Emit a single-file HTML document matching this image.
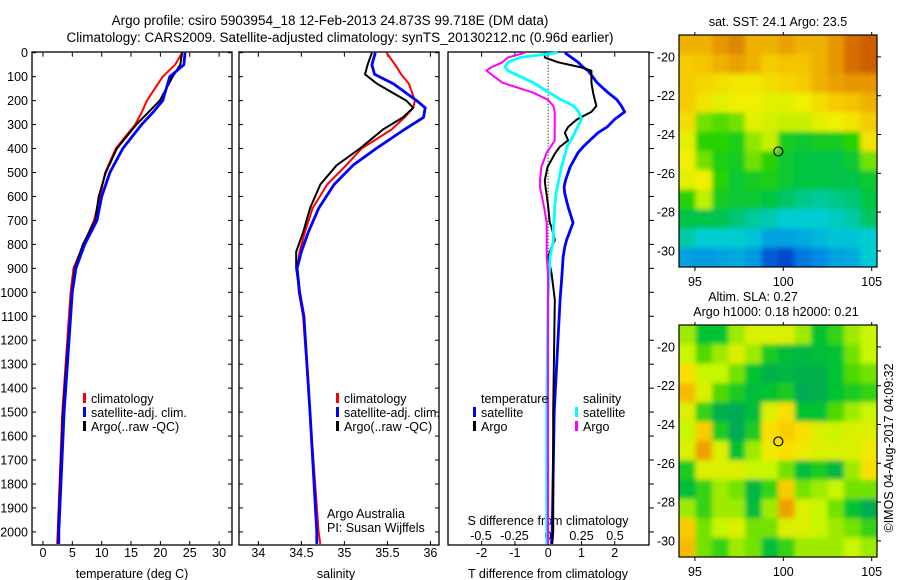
<!DOCTYPE html>
<html><head><meta charset="utf-8"><style>
html,body{margin:0;padding:0;background:#fff}
svg{display:block;font-family:"Liberation Sans",sans-serif}
</style></head><body>
<svg id="fig" width="900" height="580" viewBox="0 0 900 580">
<defs>
<filter id="blur" x="0" y="0" width="1" height="1"><feGaussianBlur stdDeviation="2.5"/></filter>
<clipPath id="c1"><rect x="679" y="35" width="198" height="232"/></clipPath>
<clipPath id="c2"><rect x="679" y="325" width="198" height="232"/></clipPath>
</defs>
<text x="330" y="25" font-size="13.5" text-anchor="middle">Argo profile: csiro 5903954_18 12-Feb-2013 24.873S 99.718E (DM data)</text>
<text x="340" y="42" font-size="13.5" text-anchor="middle">Climatology: CARS2009. Satellite-adjusted climatology: synTS_20130212.nc (0.96d earlier)</text>
<text transform="translate(893,448) rotate(-90)" font-size="12.5" text-anchor="middle">©IMOS 04-Aug-2017 04:09:32</text>
</svg>
<script>
// ---- depth data (m) ----
const depthsT = [0,50,100,200,250,300,400,500,600,700,800,900,1000,1500,2000,2050];
const tempClim = [23.7,22.5,20.4,17.7,16.8,15.7,12.4,10.6,9.7,8.7,6.9,5.2,4.7,3.3,2.5,2.4];
const tempArgo = [23.7,23.4,22.1,19.9,17.9,15.9,12.6,10.7,9.5,8.9,6.8,5.4,4.9,3.4,2.6,2.6];
const tempSat  = [24.2,24.0,21.6,20.4,18.7,16.8,13.6,11.4,10.0,9.2,7.1,5.6,5.0,3.6,2.7,2.7];

const depthsS = [0,50,90,130,200,230,270,320,400,470,550,650,750,830,900,1000,1100,1500,2000,2050];
const salClim = [35.49,35.59,35.66,35.75,35.82,35.80,35.70,35.55,35.20,35.02,34.8,34.63,34.54,34.48,34.45,34.47,34.52,34.6,34.7,34.72];
const salArgo = [35.32,35.27,35.24,35.38,35.72,35.8,35.68,35.45,35.18,34.91,34.72,34.6,34.52,34.44,34.44,34.48,34.53,34.6,34.68,34.68];
const salSat  = [35.36,35.32,35.35,35.57,35.84,35.94,35.92,35.7,35.37,35.1,34.88,34.7,34.58,34.5,34.45,34.48,34.53,34.6,34.68,34.68];

const depthsD = [0,20,40,60,75,125,167,197,222,247,278,310,334,366,393,417,477,533,560,588,643,710,727,783,810,853,920,1030,1500,2000,2050];
const tDiffSat  = [0.5,0.7,0.9,1.05,1.2,1.47,1.8,2.07,2.2,2.3,2.0,1.77,1.5,1.25,1.05,0.9,0.66,0.52,0.48,0.5,0.6,0.75,0.7,0.55,0.5,0.45,0.42,0.36,0.18,0.12,0.1];
const tDiffArgo = [-0.1,-0.1,0.3,0.96,1.3,1.3,1.35,1.4,1.45,1.3,0.87,0.6,0.5,0.6,0.35,0.22,-0.02,-0.1,-0.08,-0.05,0,0.05,0.1,0.2,0.1,0,0.1,0.2,0.15,0.15,0.12];
const sDiffSat  = [0.07,-0.21,-0.3,-0.32,-0.3,-0.11,0.01,0.1,0.19,0.23,0.25,0.22,0.2,0.17,0.14,0.13,0.1,0.08,0.07,0.06,0.05,0.045,0.04,0.04,0.03,0.015,0.01,0,-0.01,-0.01,-0.01];
const sDiffArgo = [-0.17,-0.3,-0.34,-0.42,-0.46,-0.34,-0.11,0.0,0.04,0.05,0.05,0.05,0.05,0.05,0.02,-0.01,-0.05,-0.06,-0.06,-0.05,-0.03,-0.01,-0.01,-0.01,-0.01,-0.01,0,0,0,0,0];

const depthTicks = [0,100,200,300,400,500,600,700,800,900,1000,1100,1200,1300,1400,1500,1600,1700,1800,1900,2000];
const tempTicks = [0,5,10,15,20,25,30];
const salTicks = [34,34.5,35,35.5,36];
const tDiffTicks = [-2,-1,0,1,2];
const sDiffTicks = [-0.5,-0.25,0,0.25,0.5];
const sDiffTickLabels = ['-0.5','-0.25','0','0.25','0.5'];

// ---- map grids (normalized colour value, 12x12, rows north->south) ----
const sstGrid = [
[.85,.85,.9,.92,.85,.85,.88,.85,.85,.9,.95,.97],
[.8,.82,.85,.88,.85,.8,.82,.82,.85,.9,.95,.97],
[.8,.78,.76,.74,.74,.76,.78,.8,.85,.88,.9,.9],
[.8,.75,.7,.72,.72,.7,.7,.72,.76,.8,.82,.85],
[.76,.6,.58,.6,.7,.68,.66,.66,.7,.72,.75,.8],
[.7,.55,.55,.52,.62,.66,.5,.48,.5,.5,.55,.75],
[.72,.6,.52,.5,.6,.55,.48,.46,.45,.45,.48,.6],
[.7,.72,.55,.48,.5,.52,.48,.46,.46,.45,.45,.48],
[.55,.65,.5,.48,.48,.46,.42,.38,.36,.38,.4,.46],
[.45,.45,.44,.4,.36,.34,.3,.3,.3,.32,.35,.42],
[.35,.3,.3,.3,.28,.2,.2,.22,.25,.28,.28,.3],
[.2,.18,.2,.22,.18,.08,.05,.12,.15,.2,.22,.3]];
const slaGrid = [
[.5,.25,.25,.5,.6,.6,.6,.5,.25,.35,.5,.55],
[.55,.4,.5,.6,.5,.3,.2,.15,.2,.25,.45,.55],
[.7,.55,.55,.45,.25,.1,.15,.1,.1,.25,.4,.45],
[.8,.6,.4,.3,.2,.25,.3,.05,.1,.25,.3,.35],
[.6,.35,.1,.05,.2,.6,.7,.25,.25,.4,.5,.55],
[.55,.75,.3,.05,.3,.7,.75,.7,.6,.55,.6,.6],
[.6,.88,.6,.25,.5,.65,.7,.65,.6,.6,.6,.65],
[.3,.6,.6,.6,.55,.55,.45,.2,.3,.15,.5,.7],
[.2,.35,.5,.45,.15,.35,.75,.45,.5,.55,.45,.45],
[.5,.35,.5,.5,.2,.5,.88,.6,.55,.45,.25,.05],
[.75,.45,.55,.6,.45,.45,.6,.6,.55,.5,.45,.35],
[.8,.45,.35,.5,.45,.2,.35,.5,.5,.5,.55,.5]];
const lonTicks = [95,100,105];
const latTicks = [-20,-22,-24,-26,-28,-30];
const argoLon = 99.718, argoLat = -24.873;

const NS = 'http://www.w3.org/2000/svg';
const svg = document.getElementById('fig');
function mk(tag, attrs, parent){const e=document.createElementNS(NS,tag);for(const k in attrs)e.setAttribute(k,attrs[k]);(parent||svg).appendChild(e);return e;}
function txt(s,x,y,anchor,size,name,parent){const t=mk('text',{x:x,y:y,'text-anchor':anchor,'font-size':size},parent);t.textContent=s;


return t;}

const Y0 = 52.7, YS = 0.2396, YB = 545;
const yD = d => Y0 + d*YS;
function panel(x0,x1,vmin,vmax){return {x0,x1,x:v=>x0+(v-vmin)/(vmax-vmin)*(x1-x0)};}
const p1 = panel(32,232,-1.87,32.2);
const p2 = panel(239,439,33.775,36.1);
const p3 = panel(448,649,-3.01,3.03);
const sx = v => 548 + v*134;

function frame(p,name,leftLabels,rightTicks){
  const g = mk('g',{});
  
  
  mk('rect',{x:p.x0,y:Y0-0.7,width:p.x1-p.x0,height:YB-Y0+0.7,fill:'none',stroke:'#000','stroke-width':1.3},g);
  depthTicks.forEach(d=>{
    const y=yD(d);
    if(!rightTicks){mk('line',{x1:p.x0,x2:p.x0+4,y1:y,y2:y,stroke:'#000'},g);mk('line',{x1:p.x1,x2:p.x1-4,y1:y,y2:y,stroke:'#000'},g);}
    else {mk('line',{x1:p.x1,x2:p.x1+5,y1:y,y2:y,stroke:'#000'},g);}
    if(leftLabels) txt(String(d),28,y+4.5,'end',12.5,'depth-tick-label',g);
  });
  return g;
}
function xticks(p,ticks,labels,g,fx){
  ticks.forEach((v,i)=>{const x=(fx||p.x)(v);
    mk('line',{x1:x,x2:x,y1:YB,y2:YB-4,stroke:'#000'},g);mk('line',{x1:x,x2:x,y1:Y0,y2:Y0+4,stroke:'#000'},g);
    if(labels) txt(labels[i],x,557,'middle',12.5,'x-tick-label',g);});
}
function line(p,fx,depths,vals,color,w,name){
  const pts = depths.map((d,i)=>fx(vals[i]).toFixed(1)+','+yD(d).toFixed(1)).join(' ');
  const e = mk('polyline',{points:pts,fill:'none',stroke:color,'stroke-width':w,'stroke-linejoin':'round'});
  
  
}
function legend(x,y,entries,parent){
  entries.forEach((en,i)=>{const yy=y+i*14;
    mk('rect',{x:x,y:yy-10,width:3,height:10,fill:en[1]},parent);
    txt(en[0],x+8,yy,'start',12.5,'legend-entry',parent);});
}

// Panel 1 temperature
const g1 = frame(p1,'temperature-panel',true,false);
xticks(p1,tempTicks,tempTicks.map(String),g1);
txt('temperature (deg C)',132,578,'middle',12.5,'x-axis-title-temperature',g1);
line(p1,p1.x,depthsT,tempClim,'#ff0000',2,'temp-climatology-line');
line(p1,p1.x,depthsT,tempArgo,'#000000',2,'temp-argo-line');
line(p1,p1.x,depthsT,tempSat,'#0000ff',2.8,'temp-satellite-line');
const lg1=mk('g',{});
legend(83,403,[['climatology','#f00'],['satellite-adj. clim.','#00f'],['Argo(..raw -QC)','#000']],lg1);

// Panel 2 salinity
const g2 = frame(p2,'salinity-panel',false,false);
xticks(p2,salTicks,salTicks.map(String),g2);
txt('salinity',336,578,'middle',12.5,'x-axis-title-salinity',g2);
line(p2,p2.x,depthsS,salClim,'#ff0000',2,'sal-climatology-line');
line(p2,p2.x,depthsS,salArgo,'#000000',2,'sal-argo-line');
line(p2,p2.x,depthsS,salSat,'#0000ff',2.8,'sal-satellite-line');
const lg2=mk('g',{});
legend(336,403,[['climatology','#f00'],['satellite-adj. clim.','#00f'],['Argo(..raw -QC)','#000']],lg2);
txt('Argo Australia',327,518,'start',12.5,'credit-argo-australia',g2);
txt('PI: Susan Wijffels',327,532,'start',12.5,'credit-pi',g2);

// Panel 3 differences
const g3 = frame(p3,'difference-panel',false,true);
xticks(p3,tDiffTicks,tDiffTicks.map(String),g3);
mk('line',{x1:p3.x(0),x2:p3.x(0),y1:Y0,y2:YB,stroke:'#000','stroke-dasharray':'1,2'},g3);
txt('T difference from climatology',548,578,'middle',12.5,'x-axis-title-t-diff',g3);
txt('S difference from climatology',548,525,'middle',12.5,'x-axis-title-s-diff',g3);
sDiffTicks.forEach((v,i)=>txt(sDiffTickLabels[i],sx(v),540,'middle',12.5,'s-tick-label',g3));
line(p3,p3.x,depthsD,tDiffSat,'#0000ff',2.8,'tdiff-satellite-line');
line(p3,p3.x,depthsD,tDiffArgo,'#000000',2,'tdiff-argo-line');
line(p3,sx,depthsD,sDiffSat,'#00ffff',2.8,'sdiff-satellite-line');
line(p3,sx,depthsD,sDiffArgo,'#ff00ff',2,'sdiff-argo-line');
const lg3=mk('g',{});
txt('temperature',481,403,'start',12.5,'legend-title-temperature',lg3);
txt('salinity',583,403,'start',12.5,'legend-title-salinity',lg3);
legend(473,417,[['satellite','#00f'],['Argo','#000']],lg3);
legend(575,417,[['satellite','#0ff'],['Argo','#f0f']],lg3);

// Maps
function lerpCol(stops,v){v=Math.max(0,Math.min(1,v));for(let i=1;i<stops.length;i++){if(v<=stops[i][0]){const a=stops[i-1],b=stops[i],t=(v-a[0])/(b[0]-a[0]);return 'rgb('+[0,1,2].map(k=>Math.round(a[1][k]+t*(b[1][k]-a[1][k]))).join(',')+')';}}return 'rgb('+stops[stops.length-1][1].join(',')+')';}
const sstStops=[[0,[0,40,190]],[0.15,[0,140,230]],[0.3,[0,205,210]],[0.45,[0,195,70]],[0.55,[40,210,0]],[0.65,[190,240,0]],[0.72,[240,240,0]],[0.82,[245,195,0]],[0.9,[230,150,0]],[1,[195,70,0]]];
const slaStops=[[0,[0,165,90]],[0.25,[0,195,50]],[0.42,[90,220,0]],[0.55,[200,245,0]],[0.68,[250,230,0]],[0.82,[245,180,0]],[1,[225,120,0]]];
function map(y0,grid,stops,clip,name){
  const X0=679,X1=877,Y1=y0+232;
  const lonMin=94.1,lonMax=105.3,latTop=-18.87,latBot=-30.83;
  const lx=v=>X0+(v-lonMin)/(lonMax-lonMin)*(X1-X0);
  const ly=v=>y0+(latTop-v)/(latTop-latBot)*(Y1-y0);
  const g=mk('g',{});
  
  
  const gi=mk('g',{'clip-path':'url(#'+clip+')'},g);
  const gb=mk('g',{filter:'url(#blur)'},gi);
  const n=grid.length,m=grid[0].length,cw=(X1-X0)/m,ch=(Y1-y0)/n;
  mk('rect',{x:X0-10,y:y0-10,width:X1-X0+20,height:Y1-y0+20,fill:lerpCol(stops,grid[0][0])},gb);
  for(let r=-1;r<=n;r++)for(let c=-1;c<=m;c++){const rr=Math.max(0,Math.min(n-1,r)),cc=Math.max(0,Math.min(m-1,c));
    mk('rect',{x:X0+c*cw,y:y0+r*ch,width:cw+0.5,height:ch+0.5,fill:lerpCol(stops,grid[rr][cc])},gb);}
  mk('rect',{x:X0,y:y0,width:X1-X0,height:Y1-y0,fill:'none',stroke:'#000','stroke-width':1.2},g);
  lonTicks.forEach(v=>{const x=lx(v);mk('line',{x1:x,x2:x,y1:Y1,y2:Y1+4,stroke:'#000'},g);mk('line',{x1:x,x2:x,y1:y0,y2:y0-3,stroke:'#000'},g);txt(String(v),x,Y1+19,'middle',12.5,'lon-tick-label',g);});
  latTicks.forEach(v=>{const y=ly(v);mk('line',{x1:X1,x2:X1+4,y1:y,y2:y,stroke:'#000'},g);txt(String(v),675,y+4.5,'end',12.5,'lat-tick-label',g);});
  const c=mk('circle',{cx:lx(argoLon),cy:ly(argoLat),r:4.5,fill:'none',stroke:'#000','stroke-width':1.2},g);
  
  
}
map(35,sstGrid,sstStops,'c1','sst-map');
map(325,slaGrid,slaStops,'c2','sla-map');
txt('sat. SST: 24.1 Argo: 23.5',778,26,'middle',12.5,'sst-map-title');
txt('Altim. SLA: 0.27',753,301,'middle',12.5,'sla-map-title');
txt('Argo h1000: 0.18 h2000: 0.21',776,316,'middle',12.5,'sla-map-subtitle');
</script>
</body></html>
